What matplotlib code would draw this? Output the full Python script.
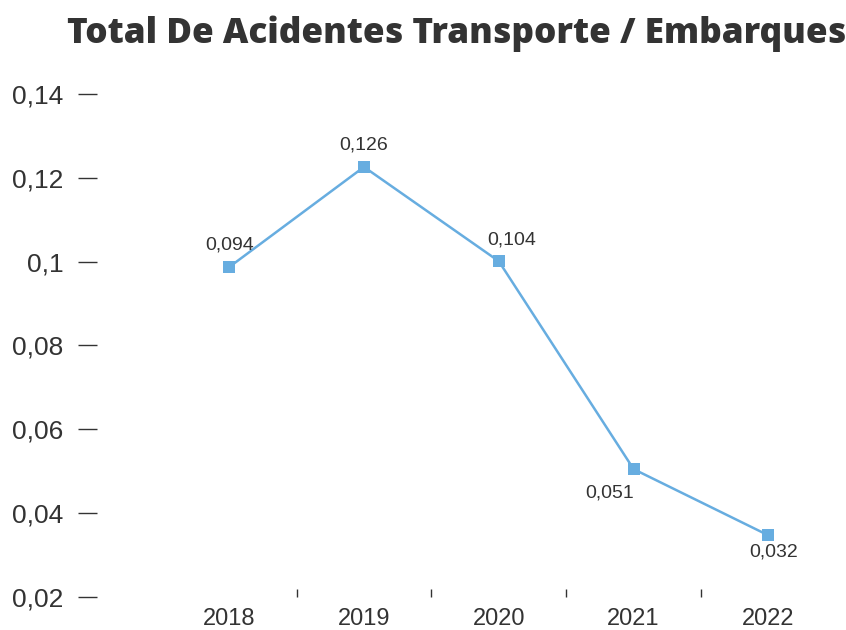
import matplotlib
matplotlib.use("Agg")
import matplotlib.pyplot as plt

# chart data
years = ["2018", "2019", "2020", "2021", "2022"]
values = [0.0987, 0.1226, 0.1001, 0.0505, 0.0347]
value_labels = ["0,094", "0,126", "0,104", "0,051", "0,032"]
y_ticks = [0.02, 0.04, 0.06, 0.08, 0.1, 0.12, 0.14]
y_tick_labels = ["0,02", "0,04", "0,06", "0,08", "0,1", "0,12", "0,14"]

# label offsets in points (dx, dy), as placed in the original
label_offsets = [(0, 16), (0, 16), (9, 15), (-17, -17), (4, -12)]

text_color = "#333333"
line_color = "#67ade0"

fig = plt.figure(figsize=(8.46, 6.3), dpi=100)
ax = fig.add_axes([0.1147, 0.0524, 0.8733, 0.7984])

x = list(range(len(years)))
ax.plot(x, values, color=line_color, linewidth=1.8, marker="s",
        markersize=8, markerfacecolor=line_color, markeredgewidth=0)

for xi, v, lab, (dx, dy) in zip(x, values, value_labels, label_offsets):
    ax.annotate(lab, (xi, v), xytext=(dx, dy), textcoords="offset points",
                ha="center", va="center", fontsize=14, color=text_color,
                family="Liberation Sans")

ax.set_xlim(-0.98, 4.5)
ax.set_ylim(0.02, 0.14)

ax.set_yticks(y_ticks)
ax.set_yticklabels(y_tick_labels, family="Liberation Sans", fontsize=19,
                   color=text_color)
ax.tick_params(axis="y", length=14, width=1, color=text_color, pad=10)

ax.set_xticks(x)
ax.set_xticklabels(years, family="Liberation Sans", fontsize=17,
                   color=text_color)
ax.tick_params(axis="x", which="major", length=0, pad=8)
ax.set_xticks([0.5, 1.5, 2.5, 3.5], minor=True)
ax.tick_params(axis="x", which="minor", direction="in", length=6,
               width=1, color=text_color)

for side in ["top", "right", "bottom", "left"]:
    ax.spines[side].set_visible(False)

fig.text(0.54, 0.947, "Total De Acidentes Transporte / Embarques",
         ha="center", va="center", fontsize=25.3, fontweight="heavy",
         family="Open Sans", color=text_color)

fig.savefig("out.png", dpi=100)
